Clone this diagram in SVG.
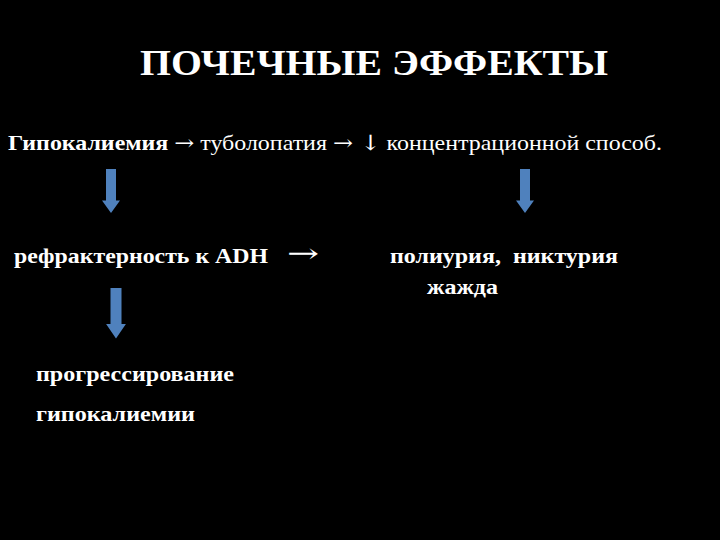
<svg xmlns="http://www.w3.org/2000/svg" width="720" height="540" viewBox="0 0 720 540">
<defs>
<style>
text{font-family:'Liberation Serif','DejaVu Serif',serif;fill:#ffffff}
.b{font-weight:bold}
.arr{fill:#4f81bd}
.sym{font-family:'DejaVu Serif','Liberation Serif',serif}
</style>
<path id="blk" d="M-5,0 H5 V30 H9 L0,42 L-9,30 H-5 Z"/>
</defs>
<rect width="720" height="540" fill="#000000"/>
<g id="title"><text class="b" x="140" y="75" font-size="36" textLength="468" lengthAdjust="spacingAndGlyphs">ПОЧЕЧНЫЕ ЭФФЕКТЫ</text></g>
<g id="chain"><text x="8" y="150" font-size="21" textLength="654" lengthAdjust="spacingAndGlyphs"><tspan class="b">Гипокалиемия</tspan> <tspan class="sym">→</tspan> туболопатия <tspan class="sym">→ ↓</tspan> концентрационной способ.</text></g>
<g id="adh"><text class="b" x="14" y="263" font-size="21" textLength="254" lengthAdjust="spacingAndGlyphs">рефрактерность к ADH</text></g>
<g id="poly"><text class="b" x="390" y="263" font-size="21" textLength="228" lengthAdjust="spacingAndGlyphs" xml:space="preserve">полиурия,  никтурия</text><text class="b" x="427" y="294" font-size="21" textLength="71" lengthAdjust="spacingAndGlyphs">жажда</text></g>
<g id="prog"><text class="b" x="36" y="381" font-size="21" textLength="198" lengthAdjust="spacingAndGlyphs">прогрессирование</text><text class="b" x="36" y="421" font-size="21" textLength="159" lengthAdjust="spacingAndGlyphs">гипокалиемии</text></g>
<g id="connectors">
<use href="#blk" class="arr" transform="translate(111,169) scale(1,1.05)"/>
<use href="#blk" class="arr" transform="translate(525,169) scale(1,1.05)"/>
<use href="#blk" class="arr" transform="translate(116,288) scale(1.1,1.2)"/>
<text class="sym" x="287" y="262" font-size="26" textLength="32" lengthAdjust="spacingAndGlyphs">→</text>
</g>
</svg>
